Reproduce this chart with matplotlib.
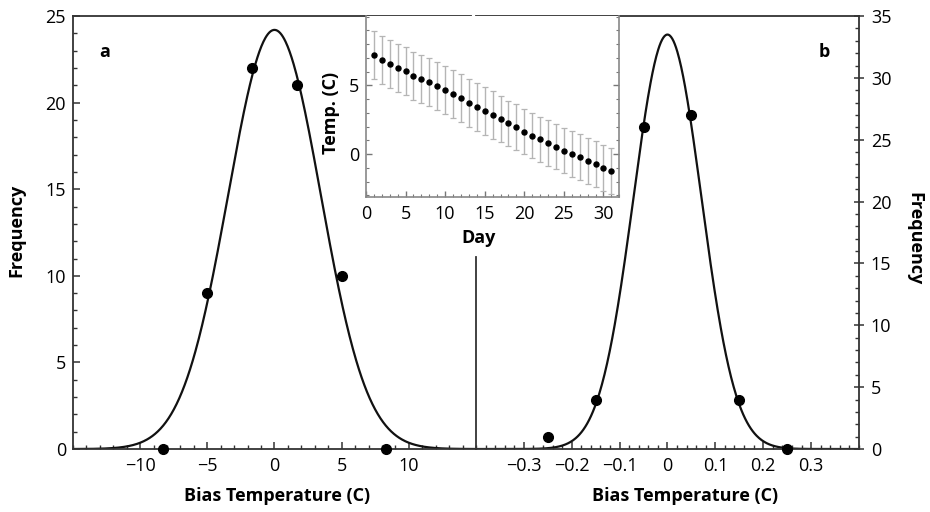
import numpy as np
import matplotlib
matplotlib.use("Agg")
import matplotlib.pyplot as plt
from matplotlib.ticker import MultipleLocator

plt.rcParams['font.family'] = ['Open Sans', 'DejaVu Sans']
plt.rcParams['font.size'] = 13

# panel a : bias histogram (C) and gaussian fit
a_bins = [-8.33, -5.0, -1.67, 1.67, 5.0, 8.33]
a_freq = [0, 9, 22, 21, 10, 0]
a_fit = (24.2, 0.0, 3.45)   # amplitude, mean, sigma

# panel b
b_bins = [-0.25, -0.15, -0.05, 0.05, 0.15, 0.25]
b_freq = [1, 4, 26, 27, 4, 0]
b_fit = (33.5, 0.0, 0.071)

# inset : daily temperature
days = list(range(1, 32))
temp = [7.20, 6.88, 6.59, 6.29, 6.02, 5.71, 5.44, 5.24, 4.93, 4.66, 4.37,
        4.07, 3.73, 3.44, 3.17, 2.83, 2.56, 2.24, 1.98, 1.63, 1.34, 1.07,
        0.80, 0.54, 0.24, 0.0, -0.22, -0.49, -0.73, -1.0, -1.24]
temp_err = [1.75] * 16 + [1.65] * 15

spine_col = '#333333'

fig = plt.figure(figsize=(9.3, 5.12), dpi=100)
ax1 = fig.add_axes([0.0785, 0.1230, 0.4333, 0.8457])
ax2 = fig.add_axes([0.5118, 0.1230, 0.4118, 0.8457])


def gauss(x, p):
    amp, mu, sig = p
    return amp * np.exp(-(x - mu) ** 2 / (2 * sig ** 2))


# left panel
xa = np.linspace(-15, 15, 600)
ax1.plot(xa, gauss(xa, a_fit), color='#111111', lw=1.6, zorder=2)
ax1.plot(a_bins, a_freq, 'o', color='black', ms=7, clip_on=False, zorder=3)
ax1.set_xlim(-15, 15)
ax1.set_ylim(0, 25)
ax1.set_xticks([-10, -5, 0, 5, 10])
ax1.set_xticklabels(['\u221210', '\u22125', '0', '5', '10'])
ax1.xaxis.set_minor_locator(MultipleLocator(1))
ax1.yaxis.set_major_locator(MultipleLocator(5))
ax1.yaxis.set_minor_locator(MultipleLocator(1))
ax1.tick_params(which='both', direction='in', color=spine_col)
ax1.tick_params(which='major', length=5, width=1.1)
ax1.tick_params(which='minor', length=3, width=1.0)
ax1.tick_params(axis='x', which='major', pad=6)
ax1.tick_params(axis='y', which='major', pad=5)
ax1.spines['right'].set_visible(False)
ax1.spines['top'].set_bounds(-15, 14.6)
for s in ['left', 'top', 'bottom']:
    ax1.spines[s].set_color(spine_col)
    ax1.spines[s].set_linewidth(1.3)
ax1.set_ylabel('Frequency', fontweight='bold')
ax1.yaxis.set_label_coords(-0.119, 0.506)
ax1.set_xlabel('Bias Temperature (C)', fontweight='bold')
ax1.xaxis.set_label_coords(0.506, -0.088)
ax1.text(0.079, 0.917, 'a', transform=ax1.transAxes, fontweight='bold',
         ha='center', va='center')

# right panel
xb = np.linspace(-0.4, 0.4, 600)
ax2.plot(xb, gauss(xb, b_fit), color='#111111', lw=1.6, zorder=2)
ax2.plot(b_bins, b_freq, 'o', color='black', ms=7, clip_on=False, zorder=3)
ax2.set_xlim(-0.4, 0.4)
ax2.set_ylim(0, 35)
ax2.set_xticks([-0.3, -0.2, -0.1, 0, 0.1, 0.2, 0.3])
ax2.set_xticklabels(['\u22120.3', '\u22120.2', '\u22120.1', '0', '0.1', '0.2', '0.3'])
ax2.xaxis.set_minor_locator(MultipleLocator(0.02))
ax2.yaxis.set_major_locator(MultipleLocator(5))
ax2.yaxis.set_minor_locator(MultipleLocator(1))
ax2.yaxis.tick_right()
ax2.yaxis.set_label_position('right')
ax2.tick_params(which='both', direction='in', color=spine_col)
ax2.tick_params(which='major', length=5, width=1.1)
ax2.tick_params(which='minor', length=3, width=1.0)
ax2.tick_params(axis='y', which='major', direction='inout', length=7)
ax2.tick_params(axis='x', which='major', pad=6)
ax2.tick_params(axis='y', which='major', pad=5)
ax2.spines['left'].set_bounds(0, 15.5)
for s in ['left', 'right', 'top', 'bottom']:
    ax2.spines[s].set_color(spine_col)
    ax2.spines[s].set_linewidth(1.3)
ax2.set_ylabel('Frequency', fontweight='bold', rotation=270, va='center')
ax2.yaxis.set_label_coords(1.146, 0.487)
ax2.set_xlabel('Bias Temperature (C)', fontweight='bold')
ax2.xaxis.set_label_coords(0.546, -0.088)
ax2.text(0.909, 0.917, 'b', transform=ax2.transAxes, fontweight='bold',
         ha='center', va='center')

# inset
ins = fig.add_axes([0.3935, 0.6158, 0.2724, 0.3529])
ins.errorbar(days, temp, yerr=temp_err, fmt='o', color='black', ms=3.6,
             ecolor='#b5b5b5', elinewidth=1.0, capsize=2.2, capthick=0.9)
ins.set_xlim(0, 32)
ins.set_ylim(-3.1, 10.05)
ins.set_xticks([0, 5, 10, 15, 20, 25, 30])
ins.set_yticks([0, 5])
ins.xaxis.set_minor_locator(MultipleLocator(1))
ins.yaxis.set_minor_locator(MultipleLocator(1))
ins.tick_params(which='both', direction='in', color='#777777', top=False, right=True)
ins.tick_params(which='major', length=4, width=1.0)
ins.tick_params(which='minor', length=2.5, width=0.8)
ins.tick_params(axis='x', which='major', pad=6)
ins.tick_params(axis='y', which='major', pad=5)
for s in ['left', 'right', 'bottom']:
    ins.spines[s].set_color('#888888')
    ins.spines[s].set_linewidth(1.2)
ins.spines['top'].set_visible(False)
ins.set_xlabel('Day', fontweight='bold')
ins.xaxis.set_label_coords(0.443, -0.176)
ins.set_ylabel('Temp. (C)', fontweight='bold')
ins.yaxis.set_label_coords(-0.103, 0.463)

fig.savefig('out.png', dpi=100)
